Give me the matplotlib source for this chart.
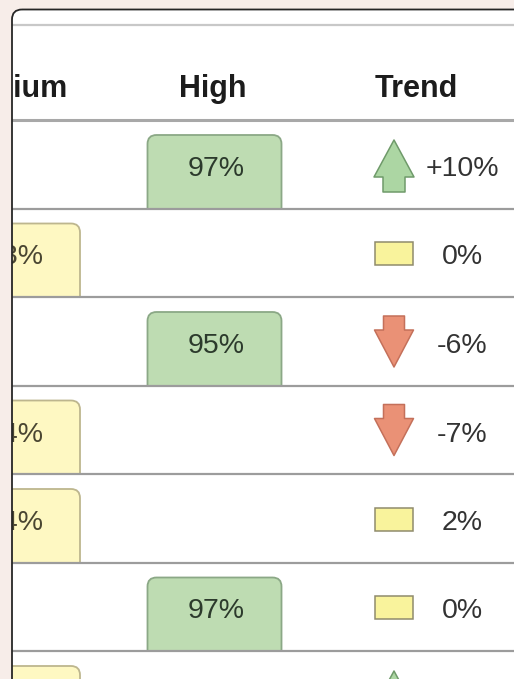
import matplotlib
matplotlib.use("Agg")
import matplotlib.pyplot as plt
from matplotlib.patches import FancyBboxPatch, Rectangle, Polygon

# Table content
columns = ["Medium", "High", "Trend"]
medium_pct = [None, 83, None, 84, 84, None, 81]
high_pct = [97, None, 95, None, None, 97, None]
trend_pct = [10, 0, -6, -7, 2, 0, 8]
trend_labels = ["+10%", "0%", "-6%", "-7%", "2%", "0%", "+8%"]

W, H = 514, 679
COL_W = 201.5   # px per column step
ROW_H = 88.5    # px per row
X0 = 13.0       # px position of the first column centre
Y0 = 120.0      # px position of the first row top

FONT = "Liberation Sans"
PAGE_BG = "#f7ede9"

fig = plt.figure(figsize=(W / 100, H / 100), dpi=100)
fig.patch.set_facecolor(PAGE_BG)
ax = fig.add_axes([0, 0, 1, 1])
ax.set_axis_off()
ax.set_xlim(-X0 / COL_W, (W - X0) / COL_W)
ax.set_ylim((H - Y0) / ROW_H, -Y0 / ROW_H)


def dx(p):
    return p / COL_W


def dy(p):
    return p / ROW_H


aspect = COL_W / ROW_H

# white card with a rounded top-left corner
card_left = dx(12 - X0)
card_top = dy(9.5 - Y0)
card_kw = dict(boxstyle=f"round,pad=0,rounding_size={dx(10)}", mutation_aspect=aspect)
card = FancyBboxPatch((card_left, card_top), 10, 20, facecolor="white",
                      edgecolor="none", zorder=1, **card_kw)
ax.add_patch(card)

far_right = 10
n_rows = len(trend_pct)

# horizontal rules
ax.plot([card_left, far_right], [dy(25 - Y0)] * 2, color="#c8c8c8", lw=1.6, zorder=2)
ax.plot([card_left, far_right], [0, 0], color="#a8a8a8", lw=2.2, zorder=5)
for i in range(n_rows):
    ax.plot([card_left, far_right], [i + 1, i + 1], color="#9c9c9c", lw=1.6, zorder=5)

# header (small per-column nudges in px)
header_nudge = [-3.5, -1.5, 0]
for c, name in enumerate(columns):
    ax.text(c + dx(header_nudge[c]), -dy(23), name, ha="center", va="baseline", fontsize=22,
            fontweight="bold", color="#1c1c1c", family=FONT, zorder=6)

BADGE_W = 134
BADGE_STYLE = {
    1: dict(face="#bedcb2", edge="#8ba886", text="#2c3a2c"),
    0: dict(face="#fef8c2", edge="#bdb68e", text="#4a4632"),
}


def draw_badge(row, col, value):
    st = BADGE_STYLE[col]
    clip = Rectangle((card_left, row), 10, 1, transform=ax.transData)
    box = FancyBboxPatch((col - dx(BADGE_W / 2), row + dy(15)), dx(BADGE_W), 1 - dy(15) + dy(12),
                         boxstyle=f"round,pad=0,rounding_size={dx(9)}",
                         mutation_aspect=aspect,
                         facecolor=st["face"], edgecolor=st["edge"], lw=1.3, zorder=3)
    ax.add_patch(box)
    box.set_clip_path(clip)
    ax.text(col + dx(2), row + dy(56), f"{value}%", ha="center", va="baseline",
            fontsize=20.5, color=st["text"], family=FONT, zorder=4)


for i, v in enumerate(medium_pct):
    if v is not None:
        draw_badge(i, 0, v)
for i, v in enumerate(high_pct):
    if v is not None:
        draw_badge(i, 1, v)

# trend icons and labels
icon_x = 2 + dx(-22)
label_x = 2 + dx(46)
up_shape = [(0, 20), (20, 57), (11, 57), (11, 72), (-11, 72), (-11, 57), (-20, 57)]
down_shape = [(-10.5, 19), (10.5, 19), (10.5, 33), (19.5, 33), (0, 70), (-19.5, 33), (-10.5, 33)]

for i, (v, lab) in enumerate(zip(trend_pct, trend_labels)):
    if v >= 5:
        pts = [(icon_x + dx(px), i + dy(py)) for px, py in up_shape]
        ax.add_patch(Polygon(pts, closed=True, facecolor="#acd6a3", edgecolor="#6f9a6a",
                             lw=1.1, joinstyle="round", zorder=3))
    elif v <= -5:
        pts = [(icon_x + dx(px), i + dy(py)) for px, py in down_shape]
        ax.add_patch(Polygon(pts, closed=True, facecolor="#ea9176", edgecolor="#c4705a",
                             lw=1.1, joinstyle="round", zorder=3))
    else:
        ax.add_patch(Rectangle((icon_x - dx(19), i + dy(33.5)), dx(38), dy(23),
                               facecolor="#f9f39c", edgecolor="#908b6c", lw=1.1, zorder=3))
    ax.text(label_x, i + dy(56), lab, ha="center", va="baseline", fontsize=20.5,
            color="#333333", family=FONT, zorder=4)

# the card scrolls horizontally: hide whatever sits left of its edge
ax.add_patch(Rectangle((-2, card_top + dy(12)), 2 + card_left, 20,
                       facecolor=PAGE_BG, edgecolor="none", zorder=10))
ax.add_patch(FancyBboxPatch((card_left, card_top), 10, 20, facecolor="none",
                            edgecolor="#262626", lw=1.3, zorder=11, **card_kw))

fig.savefig("out.png", dpi=100, facecolor=fig.get_facecolor())
